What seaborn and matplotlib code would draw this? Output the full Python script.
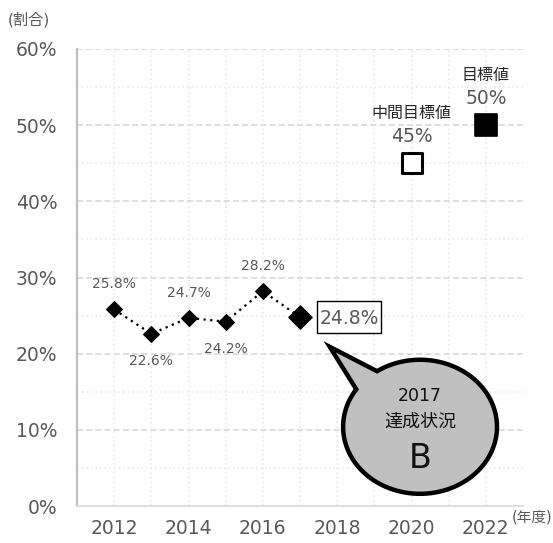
import numpy as np
import pandas as pd
import seaborn as sns
import matplotlib
matplotlib.use("Agg")
import matplotlib.pyplot as plt
from matplotlib.path import Path
from matplotlib.patches import PathPatch, Rectangle
from matplotlib.ticker import MultipleLocator, FuncFormatter
import matplotlib.transforms as mtransforms

# ---- data ----
years = [2012, 2013, 2014, 2015, 2016, 2017]
rates = [25.8, 22.6, 24.7, 24.2, 28.2, 24.8]
label_pos = ["above", "below", "above", "below", "above", "box"]
target_years = [2020, 2022]
target_values = [45, 50]
target_names = ["中間目標値", "目標値"]
xticks = [2012, 2014, 2016, 2018, 2020, 2022]
yticks = [0, 10, 20, 30, 40, 50, 60]
status_year = "2017"
status_title = "達成状況"
status_grade = "B"

sns.set_theme(style="white")
plt.rcParams['font.family'] = ['DejaVu Sans', 'Noto Sans CJK JP']

fig = plt.figure(figsize=(5.53, 5.43), dpi=100)
ax = fig.add_axes([77/553, 37/543, 446/553, 457/543])

gray_txt = "#595959"

df = pd.DataFrame({"year": years, "rate": rates})
sns.lineplot(data=df, x="year", y="rate", ax=ax, color="black", linestyle=(0, (1, 2)),
             linewidth=1.6, marker="D", markersize=8, markeredgecolor="black", zorder=4)
# larger last point
sns.scatterplot(x=[years[-1]], y=[rates[-1]], ax=ax, marker="D", s=140, color="black",
                edgecolor="black", zorder=5)

sns.scatterplot(x=[target_years[0]], y=[target_values[0]], ax=ax, marker="s", s=190,
                facecolor="white", edgecolor="black", linewidth=2.2, zorder=5)
sns.scatterplot(x=[target_years[1]], y=[target_values[1]], ax=ax, marker="s", s=230,
                color="black", edgecolor="black", zorder=5)

ax.set_xlim(2011, 2023)
ax.set_ylim(0, 60)
ax.set_xlabel("")
ax.set_ylabel("")
ax.set_xticks(xticks)
ax.set_yticks(yticks)
ax.yaxis.set_major_formatter(FuncFormatter(lambda v, p: f"{int(v)}%"))
ax.xaxis.set_minor_locator(MultipleLocator(1))
ax.yaxis.set_minor_locator(MultipleLocator(5))
ax.tick_params(axis="both", which="both", length=0, labelsize=13.5, labelcolor=gray_txt)
ax.tick_params(axis="y", pad=14)
ax.tick_params(axis="x", pad=9)

ax.grid(False)
for y in np.arange(10, 61, 10):
    ax.axhline(y, color="#d4d4d4", linestyle=(0, (4, 2)), linewidth=1.1, zorder=1)
for y in np.arange(5, 60, 10):
    ax.axhline(y, color="#e6e6e6", linestyle=(0, (1, 2)), linewidth=1.1, zorder=1)
for x in range(2012, 2023):
    ax.axvline(x, color="#e6e6e6", linestyle=(0, (1, 2)), linewidth=1.1, zorder=1)

for s in ["top", "right"]:
    ax.spines[s].set_visible(False)
ax.spines["left"].set_color("#bfbfbf")
ax.spines["left"].set_linewidth(1.6)
ax.spines["bottom"].set_color("#d9d9d9")
ax.spines["bottom"].set_linewidth(1.2)

# data labels
for x, v, pos in zip(years, rates, label_pos):
    if pos == "above":
        ax.annotate(f"{v}%", (x, v), xytext=(0, 18), textcoords="offset points",
                    ha="center", va="center", fontsize=10, color=gray_txt, zorder=6)
    elif pos == "below":
        ax.annotate(f"{v}%", (x, v), xytext=(0, -19.5), textcoords="offset points",
                    ha="center", va="center", fontsize=10, color=gray_txt, zorder=6)
    else:
        # boxed label: rectangle placed in pixel offsets from the data point
        trans = ax.transData + mtransforms.Affine2D()  # placeholder for clarity
        base = ax.transData.transform((x, v))
        rect = Rectangle((base[0] + 17, base[1] - 16), 64, 32,
                         transform=mtransforms.IdentityTransform(),
                         facecolor="white", edgecolor="black", linewidth=1, zorder=6)
        ax.add_patch(rect)
        ax.annotate(f"{v}%", (x, v), xytext=(49 * 72 / 100, -1 * 72 / 100),
                    textcoords="offset points", ha="center", va="center",
                    fontsize=13.5, color=gray_txt, zorder=7)

# target labels
for ty, tv, tn in zip(target_years, target_values, target_names):
    ax.annotate(tn, (ty, tv), xytext=(0, 36), textcoords="offset points",
                ha="center", va="center", fontsize=11.5, color="#262626")
    ax.annotate(f"{tv}%", (ty, tv), xytext=(0, 19.5), textcoords="offset points",
                ha="center", va="center", fontsize=13.5, color=gray_txt)

# callout bubble
cx, cy, rx, ry = 2020.23, 10.4, 2.07, 8.8
tip = (2017.8, 20.9)
a1, a2 = np.deg2rad(146), np.deg2rad(124 + 360)
th = np.linspace(a1, a2, 200)
verts = [(cx + rx*np.cos(t), cy + ry*np.sin(t)) for t in th]
verts.append(tip)
verts.append(verts[0])
codes = [Path.MOVETO] + [Path.LINETO]*(len(verts)-2) + [Path.CLOSEPOLY]
bubble = PathPatch(Path(verts, codes), facecolor="#c0c0c0", edgecolor="black",
                   linewidth=3.2, joinstyle="miter", zorder=7)
ax.add_patch(bubble)
ax.text(cx, 14.5, status_year, ha="center", va="center", fontsize=12.5, color="#111111", zorder=8)
ax.text(cx, 11.1, status_title, ha="center", va="center", fontsize=13, color="#111111", zorder=8)
ax.text(cx, 6.2, status_grade, ha="center", va="center", fontsize=24, color="#111111", zorder=8)

fig.text(8/553, 1 - 20/543, "(割合)", ha="left", va="center", fontsize=11, color=gray_txt)
fig.text(512/553, 1 - 517/543, "(年度)", ha="left", va="center", fontsize=10.5, color=gray_txt)

fig.savefig("out.png", dpi=100)
